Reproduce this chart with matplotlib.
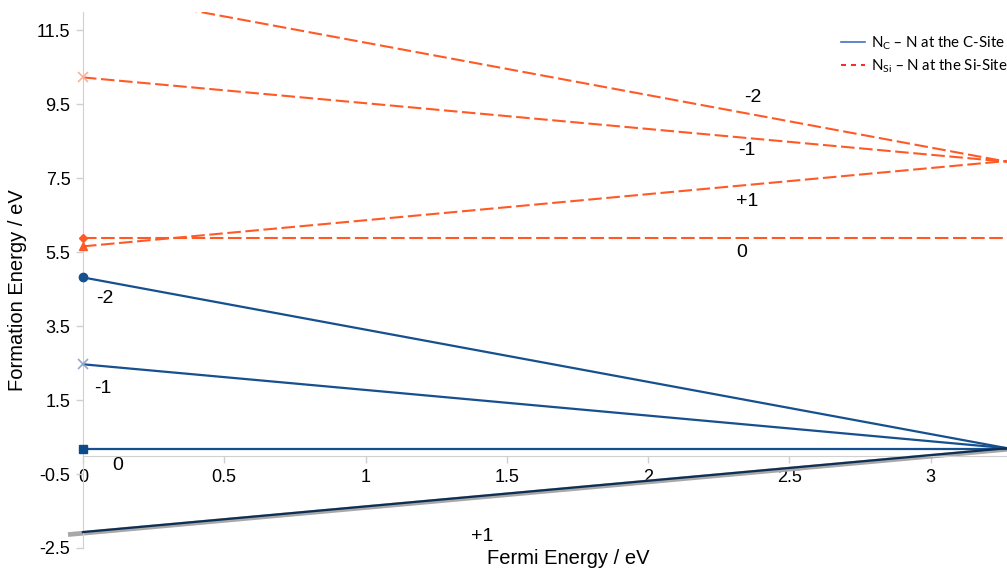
import matplotlib
matplotlib.use("Agg")
import matplotlib.pyplot as plt
from matplotlib.lines import Line2D

# ---- data ----
x_pts = [0.0, 3.27]
nc_charges = ["-2", "-1", "0", "+1"]
nc_values = {"-2": [4.82, 0.20], "-1": [2.47, 0.20], "0": [0.17, 0.17], "+1": [-2.07, 0.20]}
nsi_charges = ["-2", "-1", "+1", "0"]
nsi_values = {"-2": [12.59, 7.95], "-1": [10.23, 7.95], "+1": [5.66, 7.97], "0": [5.88, 5.88]}

nc_label_pos = {"-2": (0.078, 4.26), "-1": (0.071, 1.82), "0": (0.124, -0.26), "+1": (1.413, -2.18)}
nsi_label_pos = {"-2": (2.37, 9.69), "-1": (2.35, 8.26), "+1": (2.35, 6.88), "0": (2.33, 5.50)}

x_ticks = [0, 0.5, 1, 1.5, 2, 2.5, 3]
x_tick_labels = ["0", "0.5", "1", "1.5", "2", "2.5", "3"]
y_ticks = [-2.5, -0.5, 1.5, 3.5, 5.5, 7.5, 9.5, 11.5]
y_tick_labels = ["-2.5", "-0.5", "1.5", "3.5", "5.5", "7.5", "9.5", "11.5"]

plt.rcParams['font.family'] = ['Liberation Sans', 'DejaVu Sans']

fig = plt.figure(figsize=(10.07, 5.72), dpi=100)
ax = fig.add_axes([66/1007, 1 - 548/572, 941/1007, (548 - 12)/572])
ax.set_xlim(-0.06, 3.27)
ax.set_ylim(-2.5, 12)

blue = "#17508f"
red = "#ff5a26"

nc_markers = {"-2": dict(marker="o", ms=6, mfc=blue, mec=blue),
              "-1": dict(marker="x", ms=7, mfc="#8fa8cc", mec="#8fa8cc", mew=1.2),
              "0": dict(marker="s", ms=6, mfc="#0d4a8a", mec="#0d4a8a"),
              "+1": dict(marker=None)}
nsi_markers = {"-2": dict(marker=None),
               "-1": dict(marker="x", ms=7, mfc="#ffb09a", mec="#ffb09a", mew=1.2),
               "+1": dict(marker="^", ms=6, mfc=red, mec=red),
               "0": dict(marker="D", ms=4.5, mfc=red, mec=red)}

# grey shadow behind +1 line (extends slightly left of the y axis)
sx = [-0.053, 3.27]
sy = [nc_values["+1"][0] - 0.053 * (nc_values["+1"][1] - nc_values["+1"][0]) / 3.27 - 0.03,
      nc_values["+1"][1] - 0.03]
ax.plot(sx, sy, color="#a8a8a8", lw=3.4, solid_capstyle="butt", zorder=2)

for q in nc_charges:
    ys = nc_values[q]
    ax.plot(x_pts, ys, color=blue if q != "+1" else "#0e2f55", lw=1.6, markevery=[0], zorder=3,
            clip_on=False if q != "+1" else True, **nc_markers[q])
    tx, ty = nc_label_pos[q]
    ax.text(tx, ty, q, fontsize=14, ha="center", va="center")

for q in nsi_charges:
    ys = nsi_values[q]
    ax.plot(x_pts, ys, color=red, lw=1.5, dashes=(6.5, 2.2), markevery=[0], zorder=3, **nsi_markers[q])
    tx, ty = nsi_label_pos[q]
    ax.text(tx, ty, q, fontsize=14, ha="center", va="center")

# spines
for s in ["top", "right"]:
    ax.spines[s].set_visible(False)
ax.spines["left"].set_position(("data", 0))
ax.spines["bottom"].set_position(("data", 0))
ax.spines["left"].set_color("#d0d0d0")
ax.spines["bottom"].set_color("#d0d0d0")
ax.spines["left"].set_bounds(-2.5, 12)
ax.spines["bottom"].set_bounds(0, 3.27)

ax.set_xticks(x_ticks)
ax.set_xticklabels(x_tick_labels)
ax.set_yticks(y_ticks)
ax.set_yticklabels(y_tick_labels)
ax.tick_params(axis="both", colors="#d0d0d0", labelcolor="black", labelsize=13, length=5, width=1)
ax.tick_params(axis="x", pad=5)
ax.tick_params(axis="y", pad=4)

fig.text(18/1007, 1 - 290/572, "Formation Energy / eV", rotation=90, fontsize=14.5, ha="center", va="center")
fig.text(568/1007, 1 - 559/572, "Fermi Energy / eV", fontsize=14.5, ha="center", va="center")

handles = [Line2D([], [], color="#4472c4", lw=1.2),
           Line2D([], [], color="#ff0000", lw=1.2, dashes=(3, 3))]
labels = [r"N$_\mathregular{C}$ – N at the C-Site", r"N$_\mathregular{Si}$ – N at the Si-Site"]
leg = fig.legend(handles, labels, loc="upper left", bbox_to_anchor=(830/1007, 1 - 24/572),
                 frameon=False, handlelength=1.6, handletextpad=0.45, labelspacing=0.35,
                 borderpad=0.2, prop={"family": ["Lato", "DejaVu Sans"], "size": 10.8})

fig.savefig("out.png", dpi=100)
